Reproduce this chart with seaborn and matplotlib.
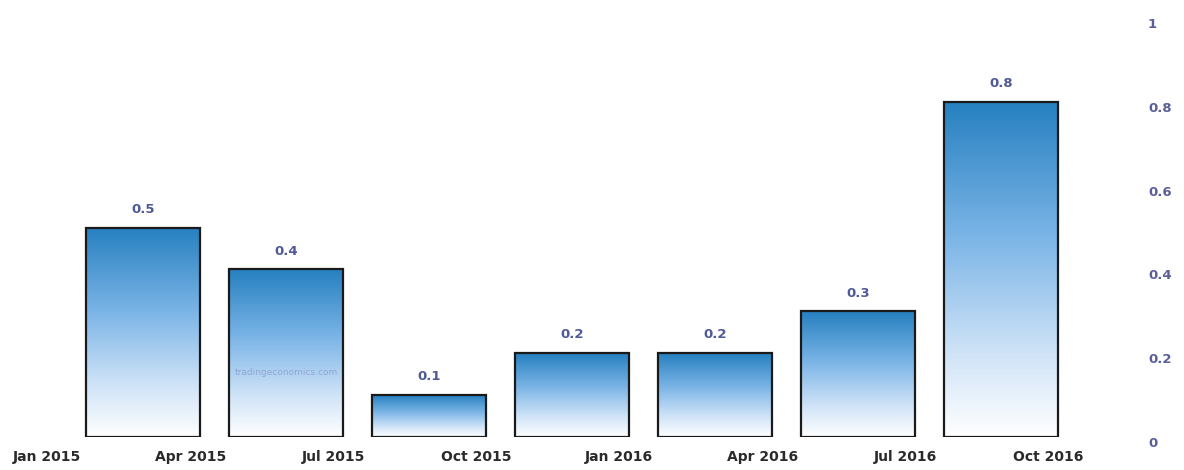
import numpy as np
import pandas as pd
import matplotlib
matplotlib.use("Agg")
import matplotlib.pyplot as plt
from matplotlib.colors import LinearSegmentedColormap
import seaborn as sns

quarters = ["Q1 2015", "Q2 2015", "Q3 2015", "Q4 2015", "Q1 2016", "Q2 2016", "Q3 2016"]
values = [0.5, 0.4, 0.1, 0.2, 0.2, 0.3, 0.8]
tick_labels = ["Jan 2015", "Apr 2015", "Jul 2015", "Oct 2015",
               "Jan 2016", "Apr 2016", "Jul 2016", "Oct 2016"]
y_ticks = [0, 0.2, 0.4, 0.6, 0.8, 1]
y_tick_labels = ["0", "0.2", "0.4", "0.6", "0.8", "1"]

df = pd.DataFrame({"quarter": quarters, "value": values})

sns.set_style("white")
plt.rcParams["font.family"] = ["DejaVu Sans"]

fig = plt.figure(figsize=(11.84, 4.70), dpi=100)
ax = fig.add_axes([0.0, 0.0702, 1130 / 1184, 0.8915])

sns.barplot(data=df, x="quarter", y="value", width=0.8, color="#5aa0dc",
            edgecolor="#1a1a1a", linewidth=1.6, ax=ax)

# gradient fill: blue at top fading to white at the bottom
grad_cmap = LinearSegmentedColormap.from_list(
    "tegrad", [(0.0, "#ffffff"), (0.25, "#cfe3f7"), (0.6, "#7ab4e6"), (1.0, "#2680c0")])
grad = np.linspace(0, 1, 256).reshape(-1, 1)
for p in ax.patches:
    x0, y0 = p.get_x(), p.get_y()
    w, h = p.get_width(), p.get_height()
    p.set_facecolor("none")
    im = ax.imshow(grad, cmap=grad_cmap, origin="lower", aspect="auto",
                   extent=[x0, x0 + w, y0, y0 + h], zorder=p.get_zorder() - 0.1)
    im.set_clip_path(p)
    ax.text(x0 + w / 2, y0 + h + 0.028, f"{h:g}", ha="center", va="bottom",
            fontsize=9.5, fontweight="bold", color="#4f5a96")

ax.text(1, 0.155, "tradingeconomics.com", ha="center", va="center",
        fontsize=6.5, color="#8a9ccc", alpha=0.8)

ax.set_xlim(-1.0, 6.90)
ax.set_ylim(0, 1)
ax.set_xticks([i - 0.67 for i in range(len(tick_labels))])
ax.set_xticklabels(tick_labels, fontsize=10, fontweight="bold", color="#2a2a2a")
ax.yaxis.tick_right()
ax.set_yticks(y_ticks)
ax.set_yticklabels(y_tick_labels, fontsize=9.5, fontweight="bold", color="#5a5f9a",
                   ha="left", va="top")
ax.tick_params(axis="both", length=0)
ax.tick_params(axis="x", pad=9)
ax.tick_params(axis="y", pad=13)
ax.set_xlabel("")
ax.set_ylabel("")
sns.despine(ax=ax, left=True, bottom=True, right=True, top=True)

fig.savefig("out.png", dpi=100)
